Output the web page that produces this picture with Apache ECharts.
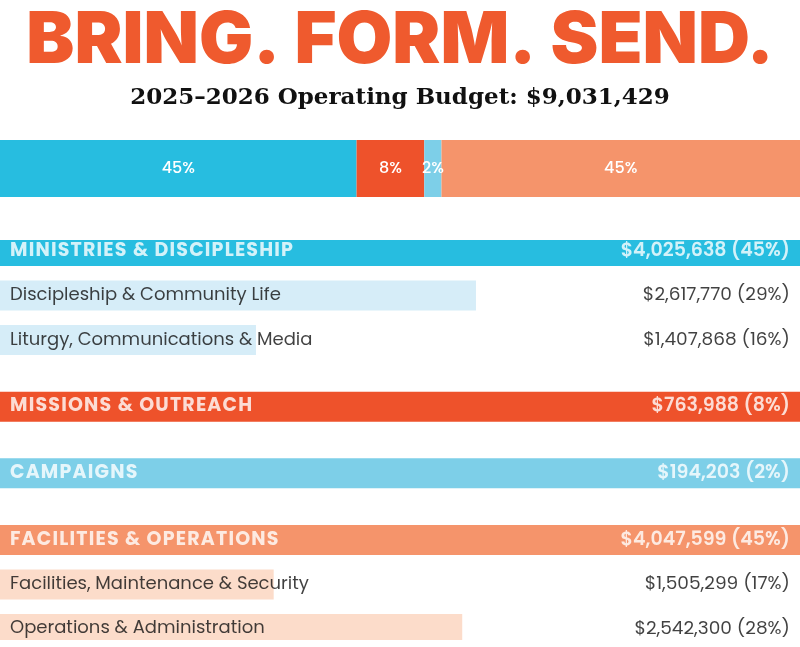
<!DOCTYPE html>
<html>
<head>
<meta charset="utf-8">
<script src="https://cdn.jsdelivr.net/npm/echarts@6/dist/echarts.min.js"></script>
<style>
  html, body { margin: 0; padding: 0; background: #fff; }
  #chart { width: 800px; height: 647px; }
</style>
</head>
<body>
<div id="chart"></div>
<script>
const titleText = "BRING. FORM. SEND.";
const subtitleText = "2025\u20132026 Operating Budget: $9,031,429";

// top stacked bar
const groupNames = ["Ministries & Discipleship", "Missions & Outreach", "Campaigns", "Facilities & Operations"];
const groupValues = [4025638, 763988, 194203, 4047599];
const groupPercents = [45, 8, 2, 45];
const groupColors = ["#27bde0", "#ee522b", "#7dcfe8", "#f5946b"];

// rows below (blank strings are spacer slots)
const rowLabels = [
  "MINISTRIES & DISCIPLESHIP", "", "Discipleship & Community Life", "", "Liturgy, Communications & Media", "", "",
  "MISSIONS & OUTREACH", "", "", "CAMPAIGNS", "", "",
  "FACILITIES & OPERATIONS", "", "Facilities, Maintenance & Security", "", "Operations & Administration"
];
const rowAmounts = [
  "$4,025,638 (45%)", "", "$2,617,770 (29%)", "", "$1,407,868 (16%)", "", "",
  "$763,988 (8%)", "", "", "$194,203 (2%)", "", "",
  "$4,047,599 (45%)", "", "$1,505,299 (17%)", "", "$2,542,300 (28%)"
];
// header rows: index -> group
const headerRows = [0, 7, 10, 13];
// sub rows: [row index, value, colour group]
const subRows = [[2, 2617770, 0], [4, 1407868, 0], [15, 1505299, 3], [17, 2542300, 3]];
const subColors = ["#d6edf8", "#fcdcca"];

const chart = echarts.init(document.getElementById("chart"));

const stackSeries = groupValues.map((v, i) => ({
  type: "bar", stack: "all", xAxisIndex: 0, yAxisIndex: 0,
  barWidth: 57, data: [v], itemStyle: { color: groupColors[i] },
  label: { show: true, position: "inside", color: "#fff", fontFamily: "Poppins, Inter, sans-serif",
    fontSize: 16, fontWeight: 500, formatter: groupPercents[i] + "%" }
}));

const headerData = rowLabels.map((l, i) => {
  const g = headerRows.indexOf(i);
  return g < 0 ? null : { value: 1, itemStyle: { color: groupColors[g] } };
});
const subData = rowLabels.map((l, i) => {
  const s = subRows.find(r => r[0] === i);
  return s ? { value: s[1], itemStyle: { color: subColors[s[2] === 0 ? 0 : 1] } } : null;
});
const isHeader = i => headerRows.indexOf(i) >= 0;

const leftText = rowLabels.map((l, i) => l ? {
  value: [0, i], label: {
    formatter: isHeader(i) ? l.split("").join("\u200A") : l,
    color: isHeader(i) ? "#fff" : "#111",
    fontWeight: isHeader(i) ? "bold" : "normal", fontSize: isHeader(i) ? 19 : 18
  }
} : null);
const rightText = rowAmounts.map((l, i) => l ? {
  value: [1, i], label: {
    formatter: l, color: isHeader(i) ? "#fff" : "#111",
    fontWeight: isHeader(i) ? 600 : "normal", fontSize: isHeader(i) ? 19 : 18.5
  }
} : null);

const option = {
  animation: false,
  backgroundColor: "#fff",
  title: [
    { text: titleText, left: "center", top: 0,
      textStyle: { color: "#ef5a2e", fontSize: 72, fontWeight: 900, fontFamily: "Inter, sans-serif" } },
    { text: subtitleText, left: "center", top: 82,
      textStyle: { color: "#111", fontSize: 23, fontWeight: "bold", fontFamily: "DejaVu Serif, serif" } }
  ],
  grid: [
    { left: 0, right: 0, top: 140, height: 57 },
    { left: 0, right: 0, top: 240, height: 400 }
  ],
  xAxis: [
    { type: "value", gridIndex: 0, min: 0, max: groupValues.reduce((a, b) => a + b, 0), show: false },
    { type: "value", gridIndex: 1, min: 0, max: 4400000, show: false },
    { type: "value", gridIndex: 1, min: 0, max: 1, show: false }
  ],
  yAxis: [
    { type: "category", gridIndex: 0, data: ["budget"], show: false },
    { type: "category", gridIndex: 1, data: rowLabels.map((l, i) => "r" + i), inverse: true, show: false }
  ],
  series: stackSeries.concat([
    { type: "bar", xAxisIndex: 2, yAxisIndex: 1, barWidth: 30, barGap: "-100%", data: headerData },
    { type: "bar", xAxisIndex: 1, yAxisIndex: 1, barWidth: 30, data: subData },
    { type: "scatter", xAxisIndex: 2, yAxisIndex: 1, symbolSize: 0, data: leftText, z: 5,
      label: { show: true, position: "right", distance: 10, fontFamily: "Poppins, Inter, sans-serif" } },
    { type: "scatter", xAxisIndex: 2, yAxisIndex: 1, symbolSize: 0, data: rightText, z: 5,
      label: { show: true, position: "left", distance: 10, fontFamily: "Poppins, Inter, sans-serif" } }
  ])
};
chart.setOption(option);
</script>
</body>
</html>
